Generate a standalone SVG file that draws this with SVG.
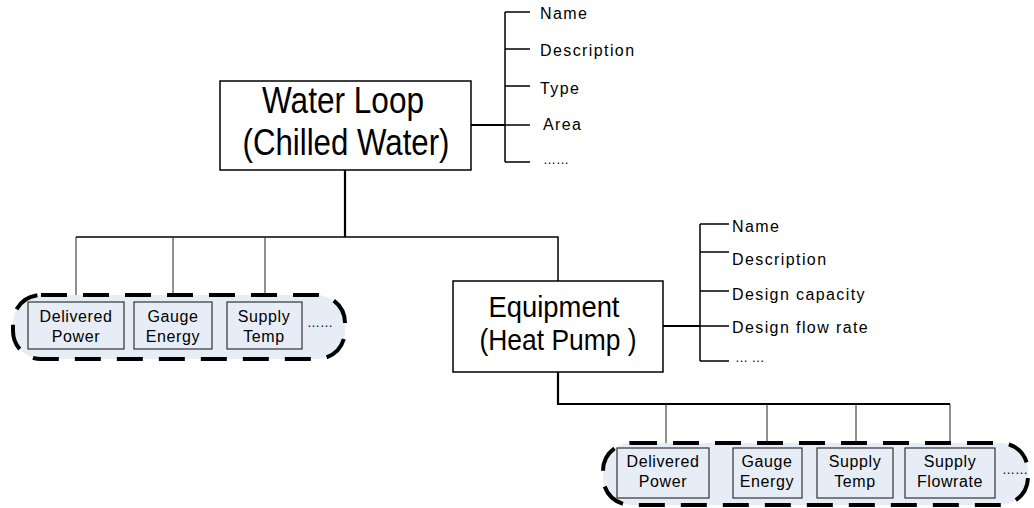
<svg xmlns="http://www.w3.org/2000/svg" width="1034" height="508" viewBox="0 0 1034 508">
<style>
text{font-family:"Liberation Sans",Arial,sans-serif;fill:#000}
.big{font-size:36px;text-anchor:middle}
.eq{font-size:30px;text-anchor:middle}
.attr{font-size:16px;letter-spacing:1.4px}
.small{font-size:16px;letter-spacing:0.6px;text-anchor:middle}
.dots{font-size:13px}
.main{fill:#fff;stroke:#000;stroke-width:1.5}
.pill{fill:#e7edf6;stroke:#000;stroke-width:4;stroke-dasharray:26 16}
.item{fill:#e7edf6;stroke:#333;stroke-width:1.2}
.ln{fill:none;stroke:#000;stroke-width:1.5}
.thick{fill:none;stroke:#000;stroke-width:2.2}
.thin{fill:none;stroke:#222;stroke-width:1}
</style>
<g id="connectors">
<path class="thick" d="M345 170V237"/>
<path class="ln" d="M76 237H558V281"/>
<path class="thin" d="M76 237V295M173 237V295M265 237V295"/>
<path class="thick" d="M471 125H505"/>
<path class="ln" d="M505 12V162M505 12H530M505 49H530M505 86H530M505 125H530M505 162H530"/>
<path class="thick" d="M663 326H700"/>
<path class="ln" d="M700 224V361M700 224H729M700 252H729M700 291H729M700 326H729M700 361H729"/>
<path class="thick" d="M558 372V404H950"/>
<path class="thin" d="M666 404V448M767 404V448M856 404V448M950 404V448"/>
</g>
<g id="water-loop">
<rect class="main" x="220" y="81" width="251" height="89"/>
<text class="big" x="343" y="113" textLength="162" lengthAdjust="spacingAndGlyphs">Water Loop</text>
<text class="big" x="346" y="155" textLength="207" lengthAdjust="spacingAndGlyphs">(Chilled Water)</text>
</g>
<g id="water-loop-attrs">
<text class="attr" x="540" y="19">Name</text>
<text class="attr" x="540" y="56">Description</text>
<text class="attr" x="540" y="94">Type</text>
<text class="attr" x="543" y="130">Area</text>
<text class="dots" x="543" y="164">……</text>
</g>
<g id="equipment">
<rect class="main" x="453" y="281" width="210" height="91"/>
<text class="eq" x="554" y="317" textLength="131" lengthAdjust="spacingAndGlyphs">Equipment</text>
<text class="eq" x="558" y="350" textLength="157" lengthAdjust="spacingAndGlyphs">(Heat Pump )</text>
</g>
<g id="equipment-attrs">
<text class="attr" x="732" y="232">Name</text>
<text class="attr" x="732" y="265">Description</text>
<text class="attr" x="732" y="300">Design capacity</text>
<text class="attr" x="732" y="333">Design flow rate</text>
<text class="dots" x="735" y="362">… …</text>
</g>
<g id="loop-points">
<rect class="pill" x="13" y="295" width="332" height="64" rx="28"/>
<g id="lp-delivered-power">
<rect class="item" x="28" y="302" width="96" height="47"/>
<text class="small" x="76" y="322">Delivered</text>
<text class="small" x="76" y="342">Power</text>
</g>
<g id="lp-gauge-energy">
<rect class="item" x="134" y="302" width="78" height="47"/>
<text class="small" x="173" y="322">Gauge</text>
<text class="small" x="173" y="342">Energy</text>
</g>
<g id="lp-supply-temp">
<rect class="item" x="227" y="302" width="75" height="47"/>
<text class="small" x="264" y="322">Supply</text>
<text class="small" x="264" y="342">Temp</text>
</g>
<text class="dots" x="307" y="327">……</text>
</g>
<g id="equipment-points">
<rect class="pill" x="603" y="443" width="425" height="62" rx="28"/>
<g id="ep-delivered-power">
<rect class="item" x="617" y="448" width="92" height="50"/>
<text class="small" x="663" y="467">Delivered</text>
<text class="small" x="663" y="487">Power</text>
</g>
<g id="ep-gauge-energy">
<rect class="item" x="733" y="448" width="69" height="50"/>
<text class="small" x="767" y="467">Gauge</text>
<text class="small" x="767" y="487">Energy</text>
</g>
<g id="ep-supply-temp">
<rect class="item" x="817" y="448" width="76" height="50"/>
<text class="small" x="855" y="467">Supply</text>
<text class="small" x="855" y="487">Temp</text>
</g>
<g id="ep-supply-flowrate">
<rect class="item" x="905" y="448" width="90" height="50"/>
<text class="small" x="950" y="467">Supply</text>
<text class="small" x="950" y="487">Flowrate</text>
</g>
<text class="dots" x="1002" y="474">……</text>
</g>
</svg>
